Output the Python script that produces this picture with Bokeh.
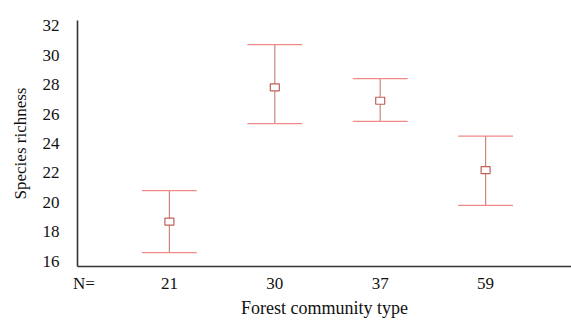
from bokeh.plotting import figure
from bokeh.models import Range1d, FixedTicker, ColumnDataSource
from bokeh.embed import file_html
from bokeh.resources import INLINE

# Data
groups = [1, 2, 3, 4]
n_labels = ["21", "30", "37", "59"]
means = [18.7, 27.8, 26.9, 22.2]
upper = [20.8, 30.7, 28.4, 24.5]
lower = [16.6, 25.35, 25.5, 19.8]
y_ticks = [16, 18, 20, 22, 24, 26, 28, 30, 32]

cap_half = 0.26
src = ColumnDataSource(dict(
    x=groups, m=means, up=upper, lo=lower,
    x0=[g - cap_half for g in groups], x1=[g + cap_half for g in groups],
))

p = figure(width=571, height=320, output_backend="svg", toolbar_location=None,
           x_range=Range1d(0.128, 4.815), y_range=Range1d(15.66, 32.34),
           min_border_left=77, min_border_right=0, min_border_top=20,
           min_border_bottom=52)
p.outline_line_color = None
p.xgrid.visible = False
p.ygrid.visible = False
p.background_fill_color = "white"
p.border_fill_color = "white"

# stems
p.segment(x0="x", y0="lo", x1="x", y1="up", source=src, line_color="#c9877a", line_width=1.2)
# caps
p.segment(x0="x0", y0="up", x1="x1", y1="up", source=src, line_color="#ef8a86", line_width=1.3)
p.segment(x0="x0", y0="lo", x1="x1", y1="lo", source=src, line_color="#ef8a86", line_width=1.3)
# mean markers
p.rect(x="x", y="m", width=9, height=7, width_units="screen", height_units="screen",
       source=src, fill_color="white", line_color="#c0605a", line_width=1.2)

font = "Liberation Serif"
# y axis
ya = p.yaxis[0]
ya.ticker = FixedTicker(ticks=y_ticks)
ya.axis_label = "Species richness"
ya.axis_label_text_font = font
ya.axis_label_text_font_style = "normal"
ya.axis_label_text_font_size = "17px"
ya.axis_label_text_color = "#111111"
ya.axis_label_standoff = 10
ya.major_label_text_font = font
ya.major_label_text_font_size = "17px"
ya.major_label_text_color = "#111111"
ya.major_tick_line_color = None
ya.minor_tick_line_color = None
ya.major_label_standoff = 12
ya.axis_line_color = "#333333"
ya.axis_line_width = 1.6

# x axis
xa = p.xaxis[0]
x_tick_pos = [0.19] + groups
xa.ticker = FixedTicker(ticks=x_tick_pos)
overrides = {0.19: "N="}
for g, lab in zip(groups, n_labels):
    overrides[g] = lab
xa.major_label_overrides = overrides
xa.axis_label = "Forest community type"
xa.axis_label_text_font = font
xa.axis_label_text_font_style = "normal"
xa.axis_label_text_font_size = "18px"
xa.axis_label_text_color = "#111111"
xa.axis_label_standoff = 2
xa.major_label_text_font = font
xa.major_label_text_font_size = "17px"
xa.major_label_text_color = "#111111"
xa.major_tick_line_color = None
xa.minor_tick_line_color = None
xa.major_label_standoff = 1
xa.axis_line_color = "#333333"
xa.axis_line_width = 1.6

open("out.html", "w").write(file_html(p, INLINE))
